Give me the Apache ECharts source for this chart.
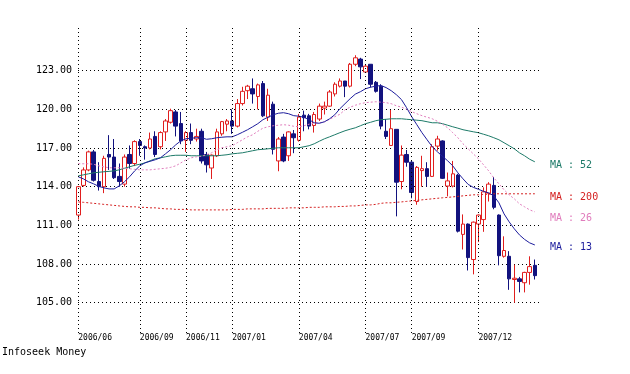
<!DOCTYPE html>
<html><head><meta charset="utf-8">
<script src="https://cdn.jsdelivr.net/npm/echarts@6/dist/echarts.min.js"></script>
<style>html,body{margin:0;padding:0;background:#fff}#c{width:630px;height:374px}</style>
</head><body><div id="c"></div>
<script>
const categories = [
'2006/06/09','2006/06/16','2006/06/23','2006/06/30',
'2006/07/07','2006/07/14','2006/07/21','2006/07/28',
'2006/08/04','2006/08/11','2006/08/18','2006/08/25',
'2006/09/01','2006/09/08','2006/09/15','2006/09/22','2006/09/29',
'2006/10/06','2006/10/13','2006/10/20','2006/10/27',
'2006/11/03','2006/11/10','2006/11/17','2006/11/24',
'2006/12/01','2006/12/08','2006/12/15','2006/12/22','2006/12/29',
'2007/01/05','2007/01/12','2007/01/19','2007/01/26',
'2007/02/02','2007/02/09','2007/02/16','2007/02/23',
'2007/03/02','2007/03/09','2007/03/16','2007/03/23','2007/03/30',
'2007/04/06','2007/04/13','2007/04/20','2007/04/27',
'2007/05/04','2007/05/11','2007/05/18','2007/05/25',
'2007/06/01','2007/06/08','2007/06/15','2007/06/22','2007/06/29',
'2007/07/06','2007/07/13','2007/07/20','2007/07/27',
'2007/08/03','2007/08/10','2007/08/17','2007/08/24','2007/08/31',
'2007/09/07','2007/09/14','2007/09/21','2007/09/28',
'2007/10/05','2007/10/12','2007/10/19','2007/10/26',
'2007/11/02','2007/11/09','2007/11/16','2007/11/23','2007/11/30',
'2007/12/07','2007/12/14','2007/12/21','2007/12/28',
'2008/01/04','2008/01/11','2008/01/18','2008/01/25',
'2008/02/01','2008/02/08','2008/02/15','2008/02/22'];

const tickDates = ['2006/06/09','2006/09/01','2006/11/03','2007/01/05','2007/04/06','2007/07/06','2007/09/07','2007/12/07'];
const tickLabels = ['2006/06','2006/09','2006/11','2007/01','2007/04','2007/07','2007/09','2007/12'];
const yTicks = [105, 108, 111, 114, 117, 120, 123];

const open = [
111.8,114.1,115.3,116.7,114.4,114.0,116.5,116.3,114.8,114.2,
116.5,115.8,117.5,117.1,117.0,117.9,117.1,118.25,119.0,119.8,
118.9,117.6,118.2,117.7,118.3,116.5,115.45,116.4,118.1,118.85,
119.1,118.7,120.45,121.45,121.6,121.0,122.0,119.4,120.4,116.0,
117.85,116.4,118.1,117.6,119.55,119.5,118.75,119.25,120.1,120.25,
121.2,121.8,122.2,121.8,123.5,123.9,122.9,123.5,122.1,121.8,
118.3,117.2,118.45,114.4,116.5,115.9,112.85,115.25,115.4,114.8,
117.15,117.55,114.05,114.05,114.9,110.3,111.1,108.35,111.1,111.45,
113.5,114.1,111.8,108.6,108.6,106.8,106.85,106.55,107.35,107.9];
const close = [
114.0,115.3,116.7,114.5,114.0,116.2,116.3,114.7,114.4,116.3,
115.8,117.5,117.2,117.0,117.7,116.5,118.2,119.1,119.9,118.7,
117.55,118.2,117.6,117.9,116.0,115.7,116.45,118.25,119.05,119.1,
118.7,120.45,121.4,121.8,121.2,121.9,119.5,121.1,116.9,117.7,
116.0,118.25,117.8,119.4,119.35,118.7,119.6,120.25,120.25,121.35,
121.95,122.2,121.8,123.5,124.0,123.3,123.35,121.95,121.4,118.7,
117.9,118.5,114.35,116.45,115.9,113.55,115.5,115.4,114.8,117.1,
117.7,114.65,114.45,115.0,110.55,111.1,108.5,111.25,111.8,113.6,
114.2,112.4,108.65,109.05,106.85,106.9,106.65,107.35,107.8,107.1];
const low = [
111.45,114.0,115.2,114.4,113.7,113.5,115.3,114.6,114.0,114.0,
115.4,115.6,116.4,116.1,116.9,116.3,116.9,117.55,118.9,117.9,
117.3,116.7,117.3,117.5,115.8,115.1,114.6,116.3,117.95,118.3,
118.1,118.6,120.3,120.8,120.45,120.0,119.4,119.1,116.5,115.2,
115.9,116.0,116.6,117.5,118.3,118.45,118.2,119.1,119.6,120.2,
121.0,121.7,120.95,121.7,123.35,122.35,122.85,121.7,121.3,118.45,
117.7,117.2,111.7,113.8,115.55,113.1,112.6,114.0,114.0,114.75,
116.8,114.6,113.25,113.95,110.45,109.13,107.5,107.2,109.7,110.5,
112.85,112.25,107.9,108.5,106.0,105.0,105.8,105.8,106.4,106.8];
const high = [
114.05,115.5,116.8,116.85,115.9,116.4,118.0,117.7,115.8,116.5,
117.2,117.6,117.7,117.2,118.2,118.3,118.3,119.25,120.05,119.95,
119.8,118.3,118.9,118.5,118.5,116.7,116.5,118.5,119.1,119.25,
120.0,120.8,121.75,121.9,122.4,122.0,122.2,121.6,120.6,117.85,
118.1,118.3,118.4,119.65,119.9,119.65,119.8,120.45,120.6,121.5,
122.1,122.4,122.2,123.6,124.2,124.0,123.5,123.5,122.2,121.95,
119.25,119.95,118.45,117.2,116.85,116.0,115.6,116.4,115.9,117.3,
117.95,117.6,115.1,116.0,115.0,111.85,111.15,111.3,111.85,113.95,
114.35,114.75,111.85,110.15,109.0,107.95,107.0,107.4,108.6,108.35];

const ma13 = [
114.77,114.61,114.38,114.22,114.03,113.91,113.83,113.83,114.07,114.38,
114.77,115.23,115.62,115.85,115.97,116.09,116.24,116.55,116.87,117.25,
117.56,117.72,117.76,117.80,117.80,117.68,117.72,117.80,117.84,117.87,
117.87,118.03,118.22,118.42,118.65,118.89,119.20,119.39,119.58,119.70,
119.74,119.66,119.51,119.47,119.39,119.20,118.96,118.92,119.04,119.27,
119.58,120.05,120.44,120.83,121.18,121.37,121.60,121.72,121.80,121.85,
121.69,121.45,121.14,120.76,120.13,119.43,118.81,118.19,117.64,117.10,
116.71,116.36,116.01,115.62,115.08,114.61,114.18,113.95,113.80,113.64,
113.52,113.29,112.75,111.89,111.27,110.73,110.26,109.91,109.64,109.48];
const ma26 = [
115.78,115.78,115.78,115.74,115.62,115.54,115.47,115.47,115.47,115.43,
115.39,115.35,115.31,115.31,115.31,115.35,115.39,115.43,115.50,115.62,
115.85,116.09,116.24,116.32,116.36,116.48,116.63,116.87,117.02,117.10,
117.18,117.41,117.64,117.87,118.03,118.30,118.54,118.65,118.73,118.77,
118.81,118.77,118.69,118.65,118.73,118.85,118.92,118.96,119.04,119.23,
119.43,119.62,119.97,120.17,120.32,120.44,120.52,120.56,120.59,120.56,
120.52,120.44,120.28,120.17,120.01,119.82,119.66,119.51,119.39,119.27,
119.08,118.85,118.57,118.19,117.80,117.33,116.94,116.55,116.17,115.70,
115.23,114.69,114.22,113.76,113.37,113.06,112.67,112.44,112.20,112.05];
const ma52 = [
114.84,114.92,115.00,115.08,115.12,115.16,115.19,115.23,115.31,115.43,
115.54,115.66,115.74,115.85,116.01,116.17,116.24,116.32,116.40,116.44,
116.44,116.44,116.40,116.40,116.40,116.40,116.40,116.40,116.44,116.48,
116.55,116.59,116.63,116.71,116.79,116.87,116.90,116.94,116.98,117.02,
117.02,117.02,117.02,117.02,117.10,117.18,117.33,117.53,117.72,117.87,
118.03,118.19,118.34,118.46,118.57,118.73,118.89,119.00,119.12,119.20,
119.23,119.27,119.27,119.27,119.23,119.20,119.16,119.12,119.04,118.96,
118.96,118.89,118.77,118.65,118.54,118.42,118.34,118.26,118.19,118.07,
117.95,117.80,117.64,117.41,117.18,116.94,116.63,116.40,116.13,115.93];
const ma200 = [
112.82,112.79,112.75,112.71,112.67,112.63,112.59,112.55,112.51,112.47,
112.44,112.44,112.40,112.40,112.36,112.36,112.32,112.28,112.28,112.24,
112.24,112.24,112.20,112.20,112.20,112.20,112.20,112.20,112.20,112.20,
112.24,112.24,112.24,112.28,112.28,112.28,112.28,112.32,112.32,112.32,
112.32,112.36,112.36,112.36,112.36,112.40,112.40,112.40,112.44,112.44,
112.44,112.47,112.47,112.51,112.51,112.55,112.59,112.59,112.63,112.71,
112.75,112.75,112.79,112.82,112.86,112.90,112.94,112.98,113.02,113.06,
113.10,113.14,113.17,113.21,113.25,113.29,113.33,113.37,113.37,113.41,
113.41,113.45,113.45,113.45,113.45,113.45,113.45,113.45,113.45,113.45];

const RED = '#e01e1e', NAVY = '#12127e', TEAL = '#1d7a68', PINK = '#e07cbc', MARED = '#d42020', MANAVY = '#1c1c9c';
const FONT = '"DejaVu Sans Mono", monospace';
const candleData = categories.map((c, i) => [open[i], close[i], low[i], high[i]]);

const chart = echarts.init(document.getElementById('c'), null, {renderer: 'canvas'});
const lineSeries = (data, color, type) => ({
  type: 'line', data: data, xAxisIndex: 0, yAxisIndex: 0, symbol: 'none', silent: true, z: 3,
  lineStyle: {color: color, width: 1, type: type || 'solid'}
});
chart.setOption({
  animation: false,
  grid: [
    {left: 75.7, right: 92.6, top: 27, bottom: 41},
    {left: 78, right: 90, top: 70.7, bottom: 71.3}
  ],
  xAxis: [
    {type: 'category', gridIndex: 0, data: categories, boundaryGap: true,
     axisLine: {show: false}, axisTick: {show: false}, splitLine: {show: false},
     axisLabel: {interval: (i, v) => tickDates.includes(v), formatter: v => tickLabels[tickDates.indexOf(v)] || '',
       align: 'left', margin: 1, fontSize: 8, fontFamily: FONT, color: '#000'}},
    {type: 'value', gridIndex: 1, show: false, min: 0, max: 1}
  ],
  yAxis: [
    {type: 'value', gridIndex: 0, min: 102.65, max: 126.39, show: false, splitLine: {show: false}},
    {type: 'value', gridIndex: 1, min: yTicks[0], max: yTicks[yTicks.length - 1], interval: 3,
     axisLine: {show: false}, axisTick: {show: false},
     axisLabel: {formatter: v => v.toFixed(2), fontSize: 10, fontFamily: FONT, color: '#000', margin: 6},
     splitLine: {show: true, lineStyle: {color: '#000', width: 1, type: [1, 3]}}}
  ],
  series: [
    {type: 'candlestick', data: candleData, xAxisIndex: 0, yAxisIndex: 0, barWidth: 4, silent: true, z: 2,
     itemStyle: {color: '#ffffff', color0: NAVY, borderColor: RED, borderColor0: NAVY, borderWidth: 1},
     markLine: {silent: true, symbol: ['none', 'none'], label: {show: false},
       lineStyle: {color: '#000', width: 1, type: [1, 3]},
       emphasis: {disabled: true},
       data: tickDates.map(d => ({xAxis: d}))}},
    lineSeries(ma200, MARED, [2, 2]),
    lineSeries(ma52, TEAL),
    lineSeries(ma26, PINK, [2, 2]),
    lineSeries(ma13, MANAVY)
  ],
  graphic: [
    {type: 'text', x: 2, y: 352, style: {text: 'Infoseek Money', fill: '#000', font: '10px ' + FONT, verticalAlign: 'middle'}},
    {type: 'text', x: 550, y: 165, style: {text: 'MA : 52', fill: TEAL, font: '10px ' + FONT, verticalAlign: 'middle'}},
    {type: 'text', x: 550, y: 197, style: {text: 'MA : 200', fill: MARED, font: '10px ' + FONT, verticalAlign: 'middle'}},
    {type: 'text', x: 550, y: 218, style: {text: 'MA : 26', fill: PINK, font: '10px ' + FONT, verticalAlign: 'middle'}},
    {type: 'text', x: 550, y: 247, style: {text: 'MA : 13', fill: MANAVY, font: '10px ' + FONT, verticalAlign: 'middle'}}
  ]
});
</script>
</body></html>
